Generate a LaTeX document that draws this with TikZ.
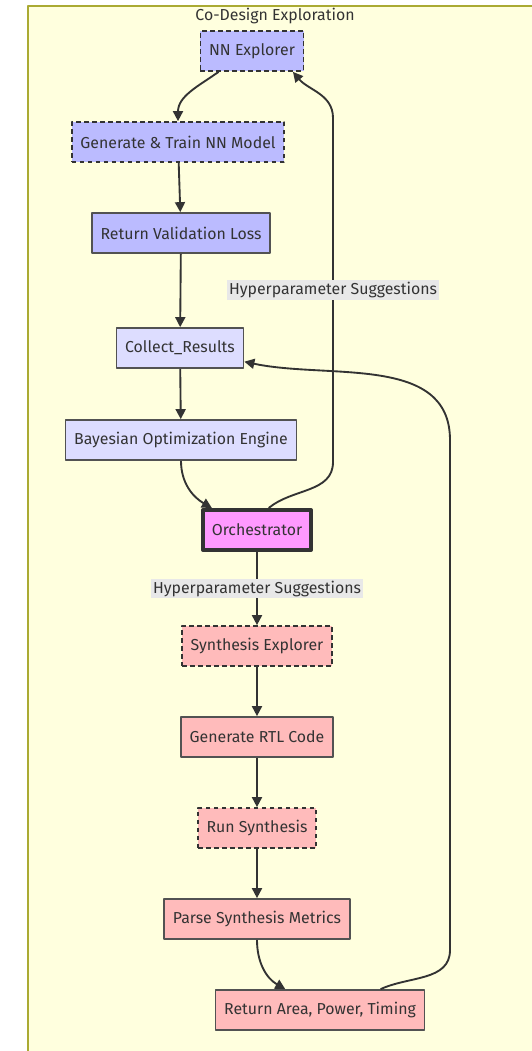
\documentclass[tikz,border=0pt]{standalone}
\usepackage{fontspec}
\setmainfont{Fira Sans}
\usetikzlibrary{arrows.meta}
\definecolor{clusterfill}{HTML}{FFFFDE}
\definecolor{clusterline}{HTML}{AAAA33}
\definecolor{nnfill}{HTML}{BBBBFF}
\definecolor{bofill}{HTML}{DDDDFF}
\definecolor{orchfill}{HTML}{FF99FF}
\definecolor{synfill}{HTML}{FFBBBB}
\definecolor{ink}{HTML}{333333}
\definecolor{lblfill}{HTML}{E8E8E8}

\begin{document}
\begin{tikzpicture}[x=0.75pt, y=-0.75pt, line join=round,
	box/.style={rectangle, draw=ink!85, line width=1.3pt, minimum height=30pt, inner xsep=6.5pt, text=ink, font=\fontsize{11.9}{14}\selectfont},
	dashbox/.style={box, draw=ink, dash pattern=on 3.5pt off 2.5pt},
	flow/.style={draw=ink, line width=1.4pt, -{Triangle[length=7.5pt,width=7.5pt]}},
	lbl/.style={fill=lblfill, text=ink, inner sep=1.5pt, font=\fontsize{11.9}{14}\selectfont}]
	%Frame
	\useasboundingbox (0,0) rectangle (532,1051);
	\path[draw=clusterline, fill=clusterfill, line width=0.9pt] (28,6) rectangle (545,1065);
	\node[text=ink, font=\fontsize{11.9}{14}\selectfont] (title) at (275,16) {Co-Design Exploration};

	%NN side
	\node[dashbox, fill=nnfill] (nnx) at (252,51) {NN Explorer};
	\node[dashbox, fill=nnfill] (gen) at (178,142) {Generate \& Train NN Model};
	\node[box, fill=nnfill] (val) at (181,233) {Return Validation Loss};

	%Optimizer
	\node[box, fill=bofill] (coll) at (180,348) {Collect\_Results};
	\node[box, fill=bofill] (bayes) at (181,440) {Bayesian Optimization Engine};
	\node[box, fill=orchfill, draw=ink, line width=3pt] (orch) at (257,530) {Orchestrator};

	%Synthesis side
	\node[dashbox, fill=synfill] (synx) at (257,646) {Synthesis Explorer};
	\node[box, fill=synfill] (rtl) at (257,737) {Generate RTL Code};
	\node[dashbox, fill=synfill] (run) at (257,828) {Run Synthesis};
	\node[box, fill=synfill] (parse) at (257,919) {Parse Synthesis Metrics};
	\node[box, fill=synfill] (ret) at (320,1010) {Return Area, Power, Timing};

	%Bend points
	\coordinate (upA) at (333,462);
	\coordinate (upB) at (333,118);
	\coordinate (backA) at (450,950);
	\coordinate (backB) at (450,440);

	%Edges
	\draw[flow] (nnx.212) to[out=-145, in=90] (gen.north);
	\draw[flow] (gen) -- (val);
	\draw[flow] (val) -- (coll);
	\draw[flow] (coll) -- (bayes);
	\draw[flow] (bayes.south) to[out=-90, in=150] (orch.154);
	\draw[flow] (orch.62) to[out=40, in=-90] (upA) -- node[lbl, pos=0.5] {Hyperparameter Suggestions} (upB) to[out=90, in=-50] (nnx.-27);
	\draw[flow] (orch) -- node[lbl] {Hyperparameter Suggestions} (synx);
	\draw[flow] (synx) -- (rtl);
	\draw[flow] (rtl) -- (run);
	\draw[flow] (run) -- (parse);
	\draw[flow] (parse.south) to[out=-90, in=150] (ret.149);
	\draw[flow] (ret.19) to[out=25, in=-90] (backA) -- (backB) to[out=90, in=-12] (coll.-12);
\end{tikzpicture}
\end{document}
